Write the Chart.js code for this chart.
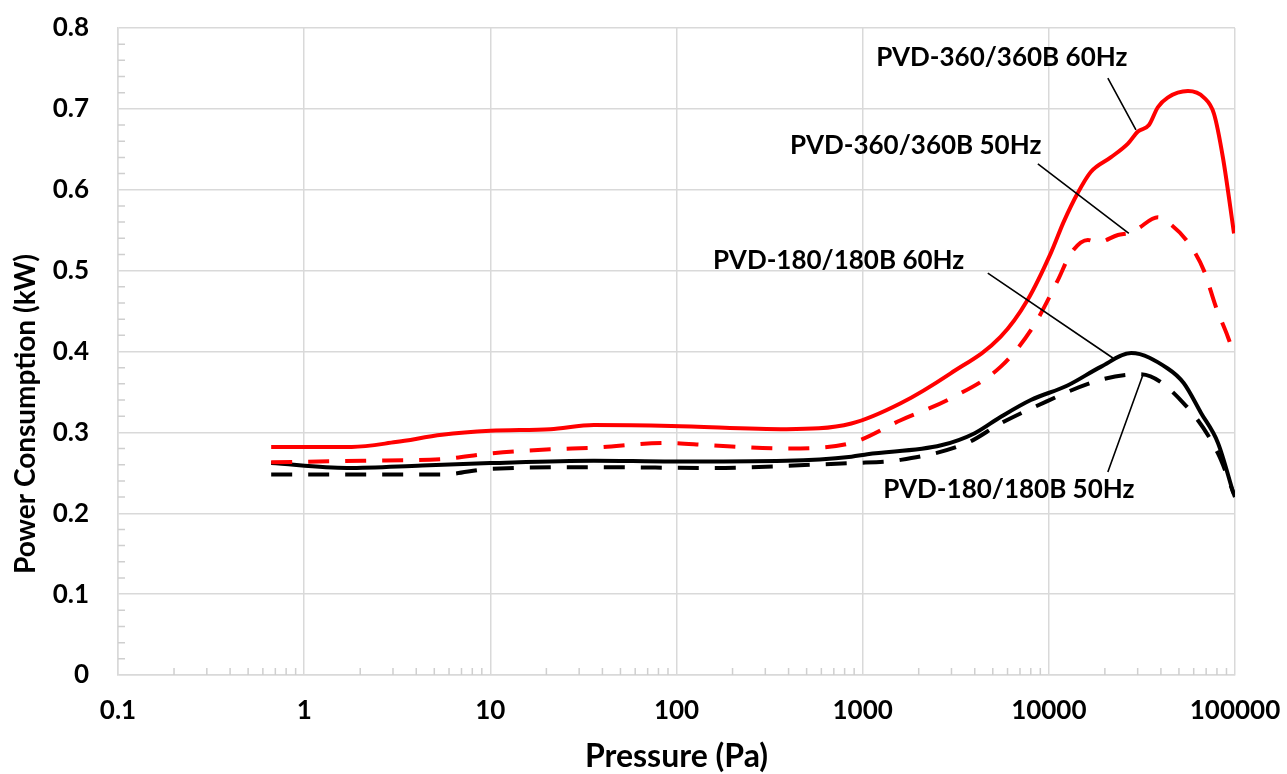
<!DOCTYPE html>
<html>
<head>
<meta charset="UTF-8">
<title>Power Consumption vs Pressure</title>
<script src="https://cdn.jsdelivr.net/npm/chart.js"></script>
<style>
    body { margin: 0; background: #fff; }
    #wrap { width: 1287px; height: 774px; position: relative; }
</style>
</head>
<body>
<div id="wrap"><canvas id="powerChart"></canvas></div>
<script>
// curves: pressure in Pa, power in kW
var p360_60 = [0.665, 1.8, 3.1, 5.5, 10, 21, 36, 94, 390, 870, 1600, 2970, 5500, 7700, 10260, 12000, 14300, 16800, 21500, 26600, 30100, 34500, 38500, 43500, 55900, 68100, 77100, 86100, 98800];
var kw360_60 = [0.282, 0.282, 0.288, 0.297, 0.302, 0.304, 0.309, 0.308, 0.304, 0.311, 0.336, 0.373, 0.418, 0.464, 0.522, 0.560, 0.596, 0.622, 0.640, 0.657, 0.672, 0.680, 0.702, 0.714, 0.722, 0.714, 0.694, 0.640, 0.546];

var p360_50 = [0.665, 2.1, 5.5, 10, 21, 36, 87, 152, 390, 870, 1600, 2970, 5500, 8200, 11170, 13100, 16200, 18300, 23500, 27600, 30100, 38500, 43500, 55900, 68100, 79000, 91600, 100000];
var kw360_50 = [0.263, 0.265, 0.267, 0.274, 0.279, 0.281, 0.287, 0.284, 0.280, 0.287, 0.315, 0.342, 0.381, 0.430, 0.488, 0.521, 0.538, 0.535, 0.544, 0.547, 0.552, 0.566, 0.560, 0.535, 0.500, 0.455, 0.418, 0.393];

var p180_60 = [0.665, 1.7, 4.3, 10, 36, 94, 390, 870, 1060, 2640, 4000, 5500, 8000, 12600, 19000, 27700, 43500, 53000, 65700, 81000, 98000];
var kw180_60 = [0.262, 0.256, 0.259, 0.262, 0.265, 0.264, 0.265, 0.270, 0.273, 0.284, 0.299, 0.319, 0.340, 0.358, 0.381, 0.398, 0.379, 0.361, 0.324, 0.287, 0.225];

var p180_50 = [0.665, 5.5, 10, 36, 152, 545, 870, 1600, 3650, 5500, 8300, 19000, 31000, 53000, 81000, 100000];
var kw180_50 = [0.248, 0.248, 0.255, 0.257, 0.256, 0.260, 0.262, 0.266, 0.287, 0.311, 0.331, 0.365, 0.372, 0.336, 0.274, 0.220];

var xTicks = [0.1, 1, 10, 100, 1000, 10000, 100000];
var yTicks = [0, 0.1, 0.2, 0.3, 0.4, 0.5, 0.6, 0.7, 0.8];

// callout labels and their leader lines (data coordinates)
var noteText = ['PVD-360/360B 60Hz', 'PVD-360/360B 50Hz', 'PVD-180/180B 60Hz', 'PVD-180/180B 50Hz'];
var noteX = [5590, 1928, 743, 6100];
var noteY = [0.763, 0.655, 0.513, 0.229];
var leadFromX = [20750, 8730, 4700, 20750];
var leadFromY = [0.738, 0.632, 0.497, 0.251];
var leadToX = [29370, 26900, 22080, 32000];
var leadToY = [0.674, 0.546, 0.392, 0.371];

var FONT = 'Lato';
var gridColor = '#d9d9d9';

function pts(xs, ys) {
    return xs.map(function (x, i) { return { x: x, y: ys[i] }; });
}

var extras = {
    id: 'extras',
    beforeDatasetsDraw: function (chart) {
        var ctx = chart.ctx, xs = chart.scales.x, ys = chart.scales.y, area = chart.chartArea;
        ctx.save();
        ctx.strokeStyle = '#cfcfcf';
        ctx.lineWidth = 1.5;
        ctx.beginPath();
        // minor ticks on the log axis
        for (var d = 0; d < xTicks.length - 1; d++) {
            for (var m = 2; m <= 9; m++) {
                var px = xs.getPixelForValue(xTicks[d] * m);
                ctx.moveTo(px, area.bottom);
                ctx.lineTo(px, area.bottom - 7);
            }
        }
        // minor ticks on the power axis every 0.02
        for (var i = 1; i < 40; i++) {
            if (i % 5 === 0) continue;
            var py = ys.getPixelForValue(i * 0.02);
            ctx.moveTo(area.left, py);
            ctx.lineTo(area.left + 7, py);
        }
        ctx.stroke();
        ctx.restore();
    },
    afterDatasetsDraw: function (chart) {
        var ctx = chart.ctx, xs = chart.scales.x, ys = chart.scales.y;
        ctx.save();
        ctx.strokeStyle = '#000';
        ctx.lineWidth = 1.6;
        ctx.beginPath();
        for (var i = 0; i < noteText.length; i++) {
            ctx.moveTo(xs.getPixelForValue(leadFromX[i]), ys.getPixelForValue(leadFromY[i]));
            ctx.lineTo(xs.getPixelForValue(leadToX[i]), ys.getPixelForValue(leadToY[i]));
        }
        ctx.stroke();
        ctx.fillStyle = '#000';
        ctx.font = 'bold 26px ' + FONT;
        ctx.textAlign = 'center';
        ctx.textBaseline = 'middle';
        for (var j = 0; j < noteText.length; j++) {
            ctx.fillText(noteText[j], xs.getPixelForValue(noteX[j]), ys.getPixelForValue(noteY[j]));
        }
        // y axis title, placed where the original sits
        ctx.translate(26, 414);
        ctx.rotate(-Math.PI / 2);
        ctx.font = 'bold 28px ' + FONT;
        ctx.fillText('Power Consumption (kW)', 0, 0);
        ctx.restore();
    }
};

var ctx = document.getElementById('powerChart').getContext('2d');
var powerChart = new Chart(ctx, {
    type: 'line',
    data: {
        datasets: [
            { label: 'PVD-360/360B 60Hz', data: pts(p360_60, kw360_60), borderColor: '#ff0000', borderWidth: 4 },
            { label: 'PVD-360/360B 50Hz', data: pts(p360_50, kw360_50), borderColor: '#ff0000', borderWidth: 4, borderDash: [21, 16] },
            { label: 'PVD-180/180B 60Hz', data: pts(p180_60, kw180_60), borderColor: '#000000', borderWidth: 4 },
            { label: 'PVD-180/180B 50Hz', data: pts(p180_50, kw180_50), borderColor: '#000000', borderWidth: 4, borderDash: [21, 16] }
        ]
    },
    options: {
        responsive: true,
        maintainAspectRatio: false,
        animation: false,
        layout: { padding: { top: 28, right: 52, left: 0, bottom: 0 } },
        elements: {
            point: { radius: 0 },
            line: { cubicInterpolationMode: 'monotone', fill: false, borderCapStyle: 'butt' }
        },
        plugins: {
            legend: { display: false },
            tooltip: { enabled: false }
        },
        scales: {
            x: {
                type: 'logarithmic',
                min: 0.1,
                max: 100000,
                afterBuildTicks: function (scale) {
                    scale.ticks = xTicks.map(function (v) { return { value: v, major: true }; });
                },
                afterFit: function (scale) {
                    scale.height = 99;
                    scale.paddingLeft = 0;
                    scale.paddingRight = 0;
                },
                grid: { color: gridColor, lineWidth: 1.5, drawTicks: false },
                border: { color: gridColor, width: 1.5 },
                ticks: {
                    autoSkip: false,
                    maxRotation: 0,
                    padding: 20,
                    color: '#000',
                    font: { family: FONT, size: 26, weight: 'bold' },
                    callback: function (v) { return String(v); }
                },
                title: {
                    display: true,
                    text: 'Pressure (Pa)',
                    color: '#000',
                    font: { family: FONT, size: 32, weight: 'bold' },
                    padding: { top: 0, bottom: -2 }
                }
            },
            y: {
                min: 0,
                max: 0.8,
                afterBuildTicks: function (scale) {
                    scale.ticks = yTicks.map(function (v) { return { value: v }; });
                },
                afterFit: function (scale) {
                    scale.width = 118;
                    scale.paddingTop = 0;
                    scale.paddingBottom = 0;
                },
                grid: { color: gridColor, lineWidth: 1.5, drawTicks: false },
                border: { color: gridColor, width: 1.5 },
                ticks: {
                    padding: 29,
                    color: '#000',
                    font: { family: FONT, size: 26, weight: 'bold' },
                    callback: function (v) { return String(Math.round(v * 10) / 10); }
                }
            }
        }
    },
    plugins: [extras]
});
</script>
</body>
</html>
